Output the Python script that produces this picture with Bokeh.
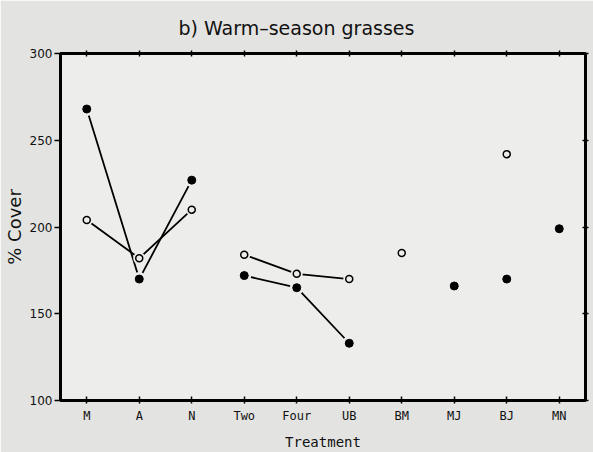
from bokeh.plotting import figure
from bokeh.models import FactorRange, Range1d, LinearAxis, CategoricalAxis, FixedTicker, Title
from bokeh.embed import file_html
from bokeh.resources import INLINE

# ---- data ----
categories = ["M", "A", "N", "Two", "Four", "UB", "BM", "MJ", "BJ", "MN"]
filled_cover = [268, 170, 227, 172, 165, 133, None, 166, 170, 199]
open_cover = [204, 182, 210, 184, 173, 170, 185, None, 242, None]
connected_groups = [["M", "A", "N"], ["Two", "Four", "UB"]]
y_ticks = [100, 150, 200, 250, 300]
title_text = "b) Warm\u2013season grasses"
y_label = "% Cover"
x_label = "Treatment"

BG = "#ededeb"
BORDER = "#e3e3e1"

p = figure(width=593, height=452,
           x_range=FactorRange(factors=categories, range_padding=0),
           y_range=Range1d(100, 300),
           output_backend="svg", toolbar_location=None,
           min_border_left=60, min_border_right=8,
           min_border_top=53, min_border_bottom=52)
p.background_fill_color = BG
p.border_fill_color = BORDER
p.grid.visible = False
p.outline_line_color = "black"
p.outline_line_width = 3

# bottom axis
xa = p.xaxis[0]
xa.axis_line_width = 3
xa.major_tick_in = 4
xa.major_tick_out = 3
xa.major_tick_line_width = 1.5
xa.major_label_standoff = 5
xa.major_label_text_font = "DejaVu Sans Mono"
xa.major_label_text_font_size = "12px"
xa.major_label_text_color = "#111111"
xa.axis_label = x_label
xa.axis_label_text_font = "DejaVu Sans Mono"
xa.axis_label_text_font_size = "14px"
xa.axis_label_text_font_style = "normal"
xa.axis_label_text_color = "#111111"
xa.axis_label_standoff = 8

# left axis
ya = p.yaxis[0]
ya.ticker = FixedTicker(ticks=y_ticks)
ya.axis_line_width = 3
ya.major_tick_in = 0
ya.major_tick_out = 6
ya.major_tick_line_width = 1.5
ya.minor_tick_line_color = None
ya.major_label_standoff = 2
ya.major_label_text_font = "DejaVu Sans"
ya.major_label_text_font_size = "12px"
ya.major_label_text_color = "#111111"
ya.axis_label = y_label
ya.axis_label_text_font = "DejaVu Sans"
ya.axis_label_text_font_size = "18px"
ya.axis_label_text_line_height = 0.9
ya.axis_label_text_font_style = "normal"
ya.axis_label_text_color = "#111111"
ya.axis_label_standoff = 2

# top axis (ticks only, labels not drawn)
ta = CategoricalAxis(axis_line_width=3, major_tick_in=3, major_tick_out=3,
                     major_tick_line_width=1.5, major_label_text_font_size="1px",
                     major_label_text_color=None, major_label_standoff=0)
p.add_layout(ta, "above")

# right axis (ticks only, labels not drawn)
ra = LinearAxis(ticker=FixedTicker(ticks=y_ticks), axis_line_width=3,
                major_tick_in=3, major_tick_out=3, major_tick_line_width=1.5,
                minor_tick_line_color=None, major_label_text_font_size="1px",
                major_label_text_color=None, major_label_standoff=0)
p.add_layout(ra, "right")

# title
p.add_layout(Title(text=title_text, align="left", offset=118, standoff=24,
                   text_font="DejaVu Sans", text_font_size="19px",
                   text_line_height=0.8,
                   text_font_style="normal", text_color="#111111"), "above")

filled_map = {c: v for c, v in zip(categories, filled_cover) if v is not None}
open_map = {c: v for c, v in zip(categories, open_cover) if v is not None}

for grp in connected_groups:
    p.line(grp, [filled_map[c] for c in grp], line_color="black", line_width=1.8)
    p.line(grp, [open_map[c] for c in grp], line_color="black", line_width=1.8)

fx = list(filled_map.keys()); fy = list(filled_map.values())
ox = list(open_map.keys()); oy = list(open_map.values())

# halos to leave a small gap between lines and markers
p.scatter(fx, fy, marker="circle", size=14, fill_color=BG, line_color=None)
p.scatter(ox, oy, marker="circle", size=12, fill_color=BG, line_color=None)
p.scatter(fx, fy, marker="circle", size=8, fill_color="black", line_color="black")
p.scatter(ox, oy, marker="circle", size=7, fill_color=BG, line_color="black", line_width=1.5)

open("out.html", "w").write(file_html(p, INLINE))
